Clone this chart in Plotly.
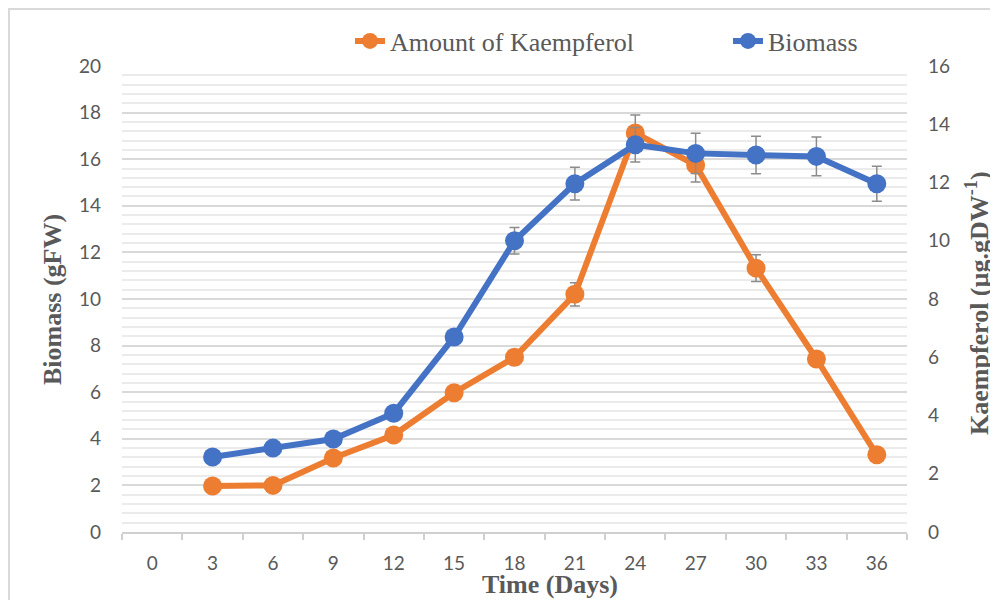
import plotly.graph_objects as go

days = ["0", "3", "6", "9", "12", "15", "18", "21", "24", "27", "30", "33", "36"]
biomass = [None, 3.22, 3.6, 3.99, 5.1, 8.37, 12.5, 14.95, 16.62, 16.25, 16.18, 16.12, 14.95]
biomass_err = [None, 0.12, 0.12, 0.15, 0.18, 0.25, 0.57, 0.7, 0.74, 0.86, 0.8, 0.83, 0.75]
kaempferol = [None, 1.58, 1.6, 2.54, 3.33, 4.78, 6.0, 8.16, 13.7, 12.6, 9.06, 5.94, 2.65]
kaempferol_err = [None, 0.1, 0.1, 0.12, 0.15, 0.2, 0.25, 0.4, 0.62, 0.58, 0.46, 0.25, 0.12]

left_ticks = list(range(0, 21, 2))
right_ticks = list(range(0, 17, 2))

ORANGE = "#ED7D31"
BLUE = "#4472C4"
GREY_TXT = "#595959"
ERR = "#8c8c8c"

# page body has an 8px margin; positions below are in window pixels
OFF = 8
W, H = 998, 600
PL, PR, PT, PB = 122, 907, 66, 532  # plot area in window pixels
L, T = PL - OFF, PT - OFF
R = W - (PR - OFF)
B = H - (PB - OFF)
pw, ph = PR - PL, PB - PT

def px(x):
    return (x - PL) / pw

def py(y):
    return (PB - y) / ph

fig = go.Figure()
fig.add_trace(go.Scatter(
    x=days, y=kaempferol, name="Amount of Kaempferol", yaxis="y",
    mode="lines+markers", legend="legend",
    line=dict(color=ORANGE, width=6),
    marker=dict(color=ORANGE, size=19),
    error_y=dict(type="data", array=kaempferol_err, color=ERR, thickness=1.5, width=5),
))
fig.add_trace(go.Scatter(
    x=days, y=biomass, name="Biomass", yaxis="y2",
    mode="lines+markers", legend="legend2",
    line=dict(color=BLUE, width=6),
    marker=dict(color=BLUE, size=19),
    error_y=dict(type="data", array=biomass_err, color=ERR, thickness=1.5, width=5),
))

leg_font = dict(family="Liberation Serif", size=26, color=GREY_TXT)

fig.update_layout(
    width=W, height=H,
    margin=dict(l=L, r=R, t=T, b=B, autoexpand=False),
    paper_bgcolor="white", plot_bgcolor="white",
    showlegend=True,
    legend=dict(
        orientation="h", x=px(350), xanchor="left", y=py(41), yanchor="middle",
        font=leg_font, bgcolor="rgba(0,0,0,0)",
    ),
    legend2=dict(
        orientation="h", x=px(728), xanchor="left", y=py(41), yanchor="middle",
        font=leg_font, bgcolor="rgba(0,0,0,0)",
    ),
    xaxis=dict(
        type="category", categoryorder="array", categoryarray=days,
        range=[-0.5, 12.5], tickson="boundaries",
        ticks="outside", ticklen=6, tickcolor="#d0d0d0", tickwidth=1.5,
        showline=True, linecolor="#d0d0d0", linewidth=1.5,
        showgrid=False, zeroline=False,
        tickfont=dict(family="Lato", size=19, color=GREY_TXT),
        ticklabelstandoff=13,
    ),
    yaxis=dict(
        side="right", range=[0, 16], tickvals=right_ticks,
        showgrid=False, zeroline=False, showline=False,
        tickfont=dict(family="Lato", size=19, color=GREY_TXT),
        ticklabelstandoff=20,
    ),
    yaxis2=dict(
        side="left", overlaying="y", range=[0, 20], tickvals=left_ticks,
        showgrid=True, gridcolor="#d9d9d9", gridwidth=1.5,
        minor=dict(dtick=0.4, showgrid=True, gridcolor="#ebebeb", gridwidth=1.5),
        zeroline=False, showline=False,
        tickfont=dict(family="Lato", size=19, color=GREY_TXT),
        ticklabelstandoff=20,
    ),
    shapes=[dict(type="rect", xref="paper", yref="paper",
                 x0=px(9), x1=px(1015), y0=py(615), y1=py(9),
                 line=dict(color="#d9d9d9", width=2), layer="below")],
    annotations=[
        dict(text="<b>Biomass (gFW)</b>", xref="paper", yref="paper",
             x=px(52), y=py(300), textangle=-90, showarrow=False,
             xanchor="center", yanchor="middle",
             font=dict(family="Liberation Serif", size=26, color=GREY_TXT)),
        dict(text="<b>Kaempferol (µg.gDW<sup>-1</sup>)</b>", xref="paper", yref="paper",
             x=px(977), y=py(303), textangle=-90, showarrow=False,
             xanchor="center", yanchor="middle",
             font=dict(family="Liberation Serif", size=26, color=GREY_TXT)),
        dict(text="<b>Time (Days)</b>", xref="paper", yref="paper",
             x=px(550), y=py(584), showarrow=False,
             xanchor="center", yanchor="middle",
             font=dict(family="Liberation Serif", size=26, color=GREY_TXT)),
    ],
)

fig.write_html("out.html")
